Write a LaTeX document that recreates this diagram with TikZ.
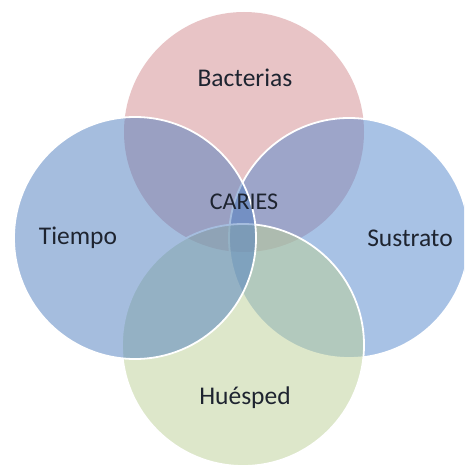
\documentclass[tikz,border=0pt]{standalone}
\usepackage{fontspec}
\setmainfont{Carlito}
\definecolor{cpink}{RGB}{211,139,143}
\definecolor{cblueL}{RGB}{77,125,191}
\definecolor{cblueR}{RGB}{83,135,205}
\definecolor{cgreen}{RGB}{189,209,151}
\definecolor{ctext}{RGB}{30,36,48}
\begin{document}
\begin{tikzpicture}[x=1pt,y=-1pt,
  venn/.style={circle, inner sep=0pt, fill opacity=0.5, draw opacity=1, line width=1.8pt},
  lbl/.style={text=ctext, font=\fontsize{25.5}{28}\selectfont, inner sep=0pt}]
\useasboundingbox (0,0) rectangle (464,468);
\clip (0,0) rectangle (464,468);
\fill[white] (0,0) rectangle (464,468);
\node[venn, fill=cpink, minimum size=240pt] (cbac) at (244,132) {};
\node[venn, fill=cblueR, draw=white, minimum size=240pt] (csus) at (349,238) {};
\node[venn, fill=cgreen, draw=white, minimum size=242pt] (chue) at (243,345) {};
\node[venn, fill=cblueL, draw=white, minimum size=242pt] (ctie) at (135,238) {};
\node[lbl] (tbac) at (245,78) {Bacterias};
\node[lbl] (ttie) at (78,238) {Tiempo};
\node[lbl] (tsus) at (410,238) {Sustrato};
\node[lbl] (thue) at (245,398) {Huésped};
\node[lbl, font=\fontsize{24}{26}\selectfont] (tcar) at (244,202) {CARIES};
\end{tikzpicture}
\end{document}
